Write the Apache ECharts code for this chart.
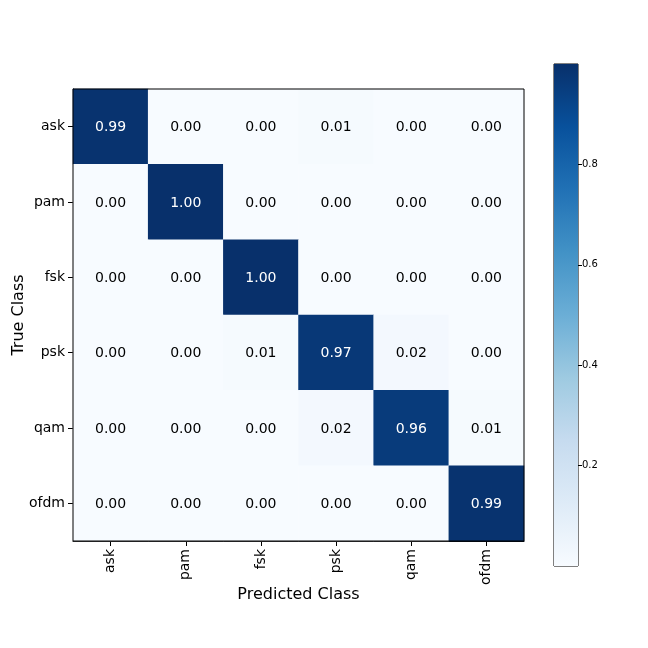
<!DOCTYPE html>
<html>
<head>
<meta charset="utf-8">
<script src="https://cdn.jsdelivr.net/npm/echarts@6/dist/echarts.min.js"></script>
<style>
  html, body { margin: 0; padding: 0; background: #fff; }
  #chart { width: 648px; height: 648px; }
</style>
</head>
<body>
<div id="chart"></div>
<script>
// class names, rows = true class, cols = predicted class
const classes = ["ask", "pam", "fsk", "psk", "qam", "ofdm"];
const matrix = [
  [0.99, 0.00, 0.00, 0.01, 0.00, 0.00],
  [0.00, 1.00, 0.00, 0.00, 0.00, 0.00],
  [0.00, 0.00, 1.00, 0.00, 0.00, 0.00],
  [0.00, 0.00, 0.01, 0.97, 0.02, 0.00],
  [0.00, 0.00, 0.00, 0.02, 0.96, 0.01],
  [0.00, 0.00, 0.00, 0.00, 0.00, 0.99]
];
const cbarTicks = [0.2, 0.4, 0.6, 0.8];
const cbarMin = 0;
const cbarMax = 1;

// matplotlib "Blues"
const blues = ["#f7fbff", "#deebf7", "#c6dbef", "#9ecae1", "#6baed6",
               "#4292c6", "#2171b5", "#08519c", "#08306b"];

const font = "DejaVu Sans";

let cells = [];
matrix.forEach((row, i) => {
  row.forEach((v, j) => {
    cells.push({
      value: [j, i, v],
      label: { color: v > 0.5 ? "#fff" : "#000" }
    });
  });
});

const chart = echarts.init(document.getElementById("chart"), null, { renderer: "canvas" });

const option = {
  backgroundColor: "#fff",
  animation: false,
  textStyle: { fontFamily: font },
  grid: [
    { left: 73, top: 89, width: 451, height: 452, show: true, containLabel: false,
      outerBoundsMode: "none",
      borderColor: "#000", borderWidth: 1, backgroundColor: "transparent", z: 10 },
    { left: 554, top: 64, width: 24, height: 502, show: true, containLabel: false,
      outerBoundsMode: "none",
      borderColor: "#000", borderWidth: 1, backgroundColor: "transparent" }
  ],
  visualMap: {
    show: false,
    seriesIndex: 0,
    min: cbarMin,
    max: cbarMax,
    inRange: { color: blues }
  },
  xAxis: [
    {
      gridIndex: 0,
      type: "category",
      data: classes,
      name: "Predicted Class",
      nameLocation: "middle",
      nameGap: 46,
      nameMoveOverlap: false,
      nameTextStyle: { fontSize: 16, color: "#000", fontFamily: font },
      axisLine: { show: true, lineStyle: { color: "#000", width: 1 } },
      axisTick: { show: true, alignWithLabel: true, length: 5, lineStyle: { color: "#000" } },
      axisLabel: { rotate: 90, fontSize: 14, color: "#000", margin: 8, fontFamily: font },
      splitLine: { show: false },
      splitArea: { show: false }
    },
    {
      gridIndex: 1,
      type: "category",
      data: [""],
      show: false
    }
  ],
  yAxis: [
    {
      gridIndex: 0,
      type: "category",
      data: classes,
      inverse: true,
      name: "True Class",
      nameLocation: "middle",
      nameGap: 46,
      nameMoveOverlap: false,
      nameRotate: 90,
      nameTextStyle: { fontSize: 16, color: "#000", fontFamily: font },
      axisLine: { show: true, lineStyle: { color: "#000", width: 1 } },
      axisTick: { show: true, alignWithLabel: true, length: 5, lineStyle: { color: "#000" } },
      axisLabel: { fontSize: 14, color: "#000", margin: 8, fontFamily: font },
      splitLine: { show: false },
      splitArea: { show: false }
    },
    {
      gridIndex: 1,
      type: "value",
      position: "right",
      min: cbarMin,
      max: cbarMax,
      axisLine: { show: false },
      axisTick: { show: true, length: 4, customValues: cbarTicks, lineStyle: { color: "#000" } },
      axisLabel: { fontSize: 10, color: "#000", margin: 4, customValues: cbarTicks,
                   formatter: v => v.toFixed(1), fontFamily: font },
      splitLine: { show: false }
    }
  ],
  series: [
    {
      type: "heatmap",
      xAxisIndex: 0,
      yAxisIndex: 0,
      data: cells,
      label: {
        show: true,
        fontSize: 14,
        fontFamily: font,
        offset: [0, 1],
        formatter: p => p.value[2].toFixed(2)
      },
      itemStyle: { borderWidth: 0 },
      emphasis: { disabled: true }
    },
    {
      type: "bar",
      xAxisIndex: 1,
      yAxisIndex: 1,
      data: [cbarMax],
      barWidth: "100%",
      silent: true,
      itemStyle: {
        color: new echarts.graphic.LinearGradient(0, 1, 0, 0,
          blues.map((c, k) => ({ offset: k / (blues.length - 1), color: c })))
      }
    }
  ]
};

chart.setOption(option);
</script>
</body>
</html>
